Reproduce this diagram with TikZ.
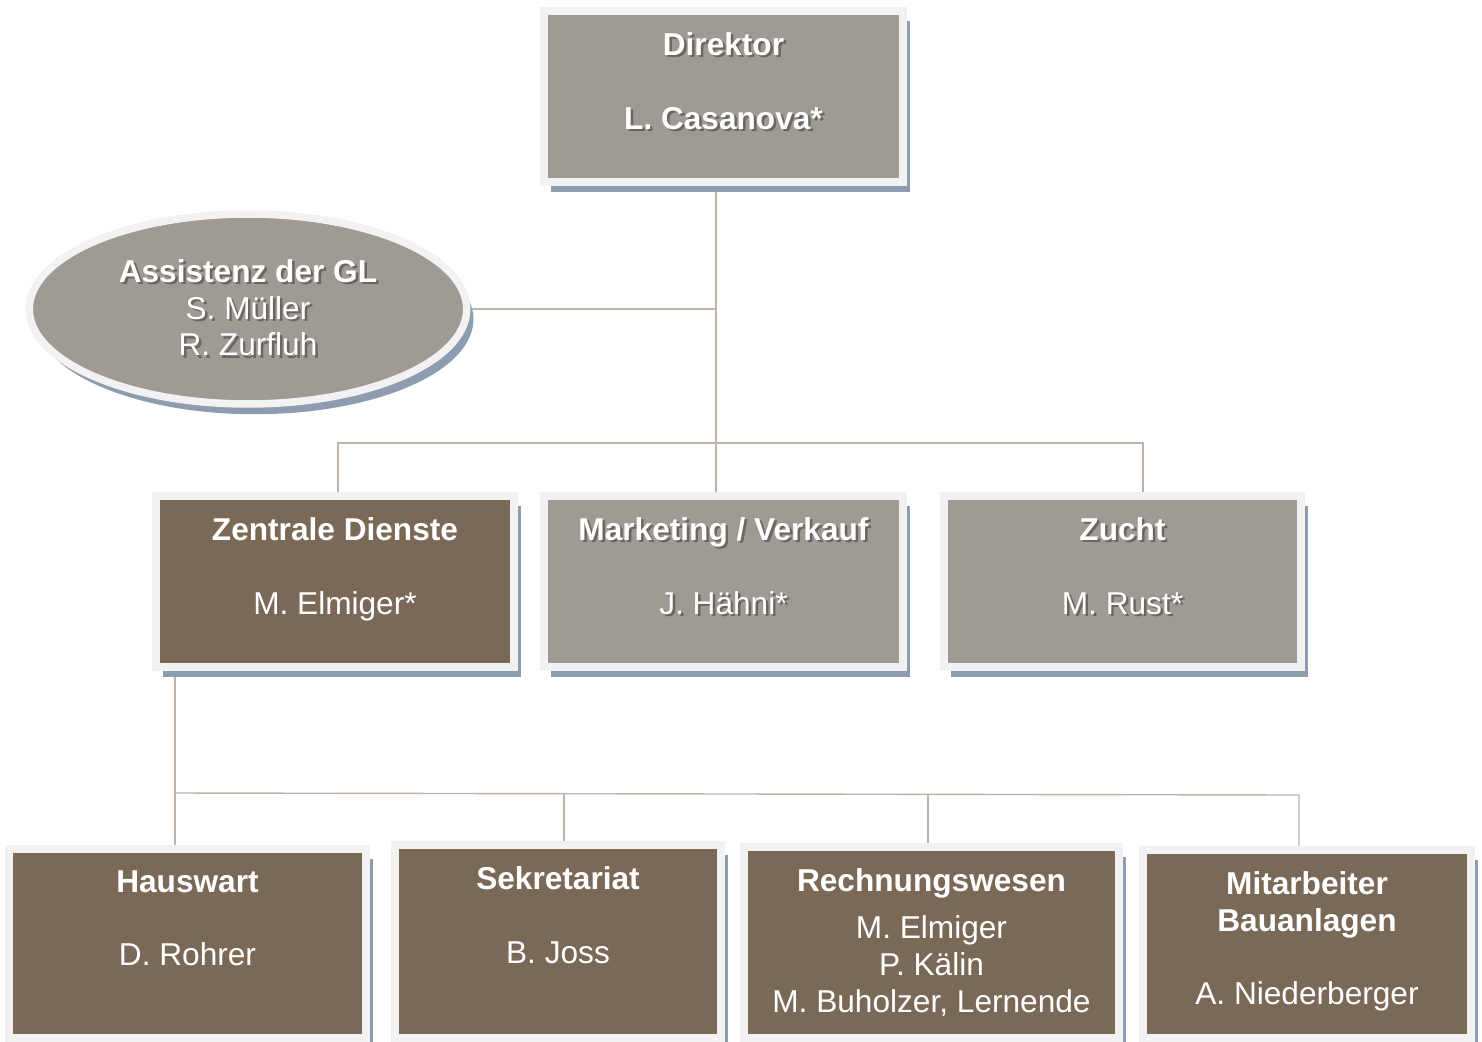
\documentclass[tikz,border=0pt]{standalone}
\usepackage{fontspec}
\setmainfont{Liberation Sans}
\usetikzlibrary{shapes.geometric,shadows,backgrounds}

\definecolor{unitgray}{HTML}{A09A95}
\definecolor{unitbrown}{HTML}{7B6958}
\definecolor{framegray}{HTML}{F2F2F2}
\definecolor{shadowblue}{HTML}{8E9CB0}
\definecolor{linkgray}{HTML}{BDB3AA}
\definecolor{textshade}{HTML}{6B6661}

\newcommand{\orgfont}{\fontsize{18}{21}\selectfont}
% Schrift mit Schatten (graue Felder)
\newcommand{\shaded}[1]{\leavevmode\rlap{\kern1.4pt\raisebox{-1.4pt}{\textcolor{textshade}{#1}}}#1}

\begin{document}
\begin{tikzpicture}[x = 0.02cm, y = -0.02cm,
  unit/.style = {rectangle, draw = framegray, line width = 0.15cm, inner sep = 0pt,
    drop shadow = {shadow xshift = 0.135cm, shadow yshift = -0.205cm,
      fill = shadowblue, opacity = 1}},
  caption/.style = {anchor = north, yshift = -0.5cm, inner sep = 0pt,
    align = center, text = white, font = \orgfont, fill = none, draw = none},
  link/.style = {draw = linkgray, line width = 0.8pt}]
\useasboundingbox (0,0) rectangle (1482,1042);

% Leitung
\node[unit, fill = unitgray, minimum width = 7.19cm, minimum height = 3.43cm,
  label = {[caption, name = dir-t]north:{\shaded{\textbf{Direktor}}\\[21pt] \shaded{\textbf{L. Casanova*}}}}]
  (dir) at (723.5,96.5) {};
\node[unit, ellipse, fill = unitgray, minimum width = 8.75cm, minimum height = 3.8cm,
  text = white, font = \orgfont, align = center]
  (asst) at (248,309) {\shaded{\textbf{Assistenz der GL}}\\ \shaded{S. Müller}\\ \shaded{R. Zurfluh}};

% Bereiche
\node[unit, fill = unitbrown, minimum width = 7.17cm, minimum height = 3.43cm,
  label = {[caption, name = zd-t]north:{\textbf{Zentrale Dienste}\\[21pt] M. Elmiger*}}]
  (zd) at (335,581.5) {};
\node[unit, fill = unitgray, minimum width = 7.19cm, minimum height = 3.43cm,
  label = {[caption, name = mv-t]north:{\shaded{\textbf{Marketing / Verkauf}}\\[21pt] \shaded{J. Hähni*}}}]
  (mv) at (723.5,581.5) {};
\node[unit, fill = unitgray, minimum width = 7.15cm, minimum height = 3.43cm,
  label = {[caption, name = zu-t]north:{\shaded{\textbf{Zucht}}\\[21pt] \shaded{M. Rust*}}}]
  (zu) at (1122.5,581.5) {};

% Zentrale Dienste
\node[unit, fill = unitbrown, minimum width = 7.15cm, minimum height = 3.79cm,
  label = {[caption, name = hw-t]north:{\textbf{Hauswart}\\[21pt] D. Rohrer}}]
  (hw) at (187.5,943.5) {};
\node[unit, fill = unitbrown, minimum width = 6.53cm, minimum height = 3.87cm,
  label = {[caption, name = sk-t]north:{\textbf{Sekretariat}\\[21pt] B. Joss}}]
  (sk) at (558,941.5) {};
\node[unit, fill = unitbrown, minimum width = 7.51cm, minimum height = 3.83cm,
  label = {[caption, name = rw-t]north:{\textbf{Rechnungswesen}\\[6pt] M. Elmiger\\ P. Kälin\\ M. Buholzer, Lernende}}]
  (rw) at (931.5,942.5) {};
\node[unit, fill = unitbrown, minimum width = 6.57cm, minimum height = 3.77cm,
  label = {[caption, name = mb-t]north:{\textbf{Mitarbeiter}\\ \textbf{Bauanlagen}\\[21pt] A. Niederberger}}]
  (mb) at (1307,944) {};

\coordinate (hub) at (716,443);
\coordinate (hubL) at (338,443);
\coordinate (hubR) at (1143,443);
\coordinate (subL) at (175,793);
\coordinate (subS) at (564,793);
\coordinate (subW) at (928,794);
\coordinate (subR) at (1299,795);

\begin{scope}[on background layer]
\draw[link] (dir.south -| hub) -- (mv.north -| hub);
\draw[link] (asst.east) -- (asst.east -| hub);
\draw[link] (zd.north -| hubL) -- (hubL) -- (hubR) -- (zu.north -| hubR);
\draw[link] (zd.south -| subL) -- (hw.north -| subL);
\draw[link] (subL) -- (subR) -- (mb.north -| subR);
\draw[link] (subS) -- (sk.north -| subS);
\draw[link] (subW) -- (rw.north -| subW);
\end{scope}
\end{tikzpicture}
\end{document}
